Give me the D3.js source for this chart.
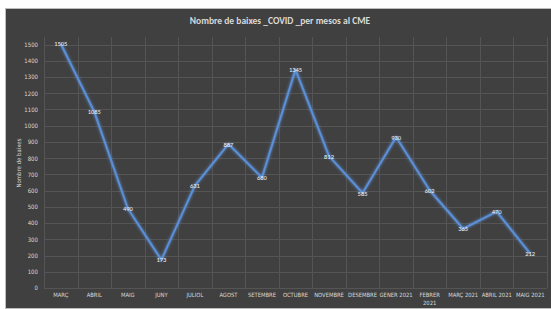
<!DOCTYPE html>
<html>
<head>
<meta charset="utf-8">
<script src="https://cdn.jsdelivr.net/npm/d3@7"></script>
<style>
  body { margin: 0; background: #ffffff; }
  svg { display: block; font-family: Calibri, Carlito, "Liberation Sans", Arial, sans-serif; }
  .narrow { font-family: "Liberation Sans Narrow", "Arial Narrow", "DejaVu Sans Condensed", sans-serif; }
</style>
</head>
<body>
<script>
var width = 551;
var height = 309;

var months = ["MARÇ", "ABRIL", "MAIG", "JUNY", "JULIOL", "AGOST", "SETEMBRE", "OCTUBRE",
    "NOVEMBRE", "DESEMBRE", "GENER 2021", "FEBRER 2021", "MARÇ 2021", "ABRIL 2021", "MAIG 2021"];
var baixes = [1505, 1085, 490, 173, 631, 887, 680, 1345, 812, 585, 930, 602, 365, 470, 212];
var yTicks = [0, 100, 200, 300, 400, 500, 600, 700, 800, 900, 1000, 1100, 1200, 1300, 1400, 1500];

var plotTop = 37;

var svg = d3.select("body").append("svg")
    .attr("width", width)
    .attr("height", height);

// chart frame
svg.append("rect")
    .attr("x", 5.5).attr("y", 8.5)
    .attr("width", 546).attr("height", 300)
    .attr("fill", "#404040")
    .attr("stroke", "#bdbdbd")
    .attr("stroke-width", 1);

var x = d3.scaleBand()
    .domain(months)
    .range([44, 547])
    .padding(0);

var y = d3.scaleLinear()
    .domain([0, 1500])
    .range([288, 44.5]);

// glow filter for the line
var defs = svg.append("defs");
var glow = defs.append("filter").attr("id", "glow")
    .attr("x", "-10%").attr("y", "-10%").attr("width", "120%").attr("height", "120%");
glow.append("feGaussianBlur").attr("stdDeviation", 1.6).attr("result", "blur");
var merge = glow.append("feMerge");
merge.append("feMergeNode").attr("in", "blur");
merge.append("feMergeNode").attr("in", "SourceGraphic");

// horizontal gridlines
svg.append("g")
    .selectAll("line")
    .data(yTicks)
    .enter().append("line")
    .attr("x1", 44).attr("x2", 547)
    .attr("y1", function (d) { return Math.round(y(d)) + 0.5; })
    .attr("y2", function (d) { return Math.round(y(d)) + 0.5; })
    .attr("stroke", "#555555")
    .attr("stroke-width", 1);

// vertical gridlines at category boundaries
var bounds = months.map(function (m) { return x(m); }).concat([x.range()[1]]);
svg.append("g")
    .selectAll("line")
    .data(bounds)
    .enter().append("line")
    .attr("x1", function (d) { return Math.round(d) + 0.5; })
    .attr("x2", function (d) { return Math.round(d) + 0.5; })
    .attr("y1", plotTop).attr("y2", 288)
    .attr("stroke", "#555555")
    .attr("stroke-width", 1);

// y axis labels
var yAxis = d3.axisLeft(y).tickValues(yTicks).tickFormat(d3.format("d")).tickSize(0).tickPadding(6);
var gy = svg.append("g")
    .attr("transform", "translate(44,0)")
    .call(yAxis);
gy.select(".domain").remove();
gy.selectAll("text")
    .attr("class", "narrow")
    .attr("fill", "#d9d9d9")
    .style("font-size", "6px");

// x axis labels
var xAxis = d3.axisBottom(x).tickSize(0).tickPadding(0);
var gx = svg.append("g")
    .attr("transform", "translate(0,293)")
    .call(xAxis);
gx.select(".domain").remove();
gx.selectAll("text")
    .attr("class", "narrow")
    .attr("fill", "#d9d9d9")
    .style("font-size", "5.8px")
    .each(function (d) {
        // only FEBRER 2021 wraps in the original
        if (d === "FEBRER 2021") {
            var t = d3.select(this);
            t.text(null);
            t.append("tspan").attr("x", 0).attr("dy", "0.71em").text("FEBRER");
            t.append("tspan").attr("x", 0).attr("dy", "1.4em").text("2021");
        }
    });

// y axis title
svg.append("text")
    .attr("class", "narrow")
    .attr("transform", "translate(21,163) rotate(-90)")
    .attr("text-anchor", "middle")
    .attr("fill", "#d9d9d9")
    .style("font-size", "6px")
    .text("Nombre de baixes");

// title
svg.append("text")
    .attr("x", 280)
    .attr("y", 24)
    .attr("text-anchor", "middle")
    .attr("fill", "#d9d9d9")
    .style("font-size", "9.5px")
    .style("font-weight", "bold")
    .text("Nombre de baixes _COVID _per mesos al CME");

// the line
var line = d3.line()
    .x(function (d, i) { return x(months[i]) + x.bandwidth() / 2; })
    .y(function (d) { return y(d); });

svg.append("path")
    .datum(baixes)
    .attr("d", line)
    .attr("fill", "none")
    .attr("stroke", "#5b8fd6")
    .attr("stroke-width", 2)
    .attr("stroke-linejoin", "round")
    .attr("filter", "url(#glow)");

// data labels
svg.append("g")
    .selectAll("text")
    .data(baixes)
    .enter().append("text")
    .attr("x", function (d, i) { return x(months[i]) + x.bandwidth() / 2; })
    .attr("y", function (d) { return y(d) + 2.5; })
    .attr("text-anchor", "middle")
    .attr("fill", "#f2f2f2")
    .style("font-size", "6.5px")
    .text(function (d) { return d; });
</script>
</body>
</html>
